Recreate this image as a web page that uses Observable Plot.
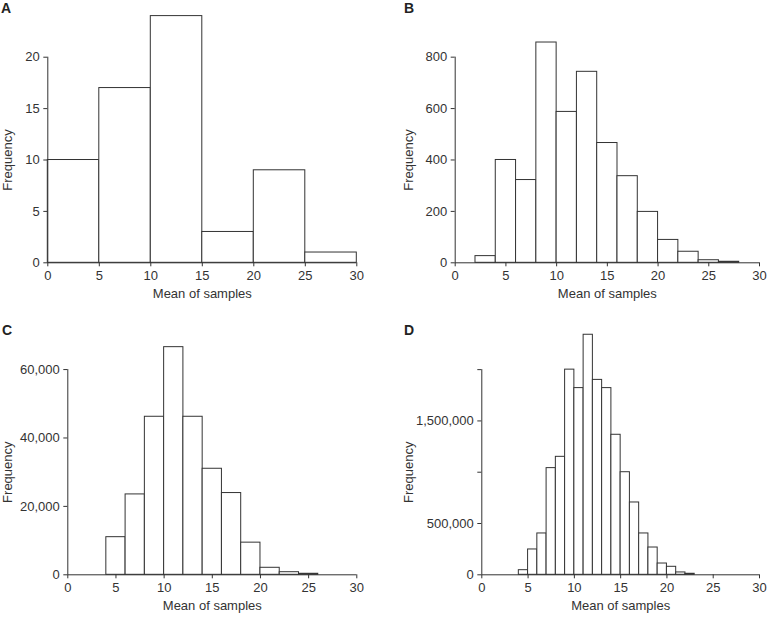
<!DOCTYPE html>
<html>
<head>
<meta charset="utf-8">
<script src="https://cdn.jsdelivr.net/npm/d3@7"></script>
<script src="https://cdn.jsdelivr.net/npm/@observablehq/plot@0.6"></script>
<style>
  html, body { margin: 0; padding: 0; background: #fff; }
  #root { position: relative; width: 767px; height: 617px; font-family: "Liberation Sans", Arial, sans-serif; }
  .panel { position: absolute; }
  .tag { position: absolute; font: bold 14px "Liberation Sans", Arial, sans-serif; color: #222; }
</style>
</head>
<body>
<div id="root"></div>
<script>
// ---- data ----
const panelTags = ["A", "B", "C", "D"];

// A: bin width 5
const aBinStarts = [0, 5, 10, 15, 20, 25];
const aCounts = [10, 17, 24, 3, 9, 1];
const aTicksY = [0, 5, 10, 15, 20];

// B: bin width 2
const bBinStarts = [2, 4, 6, 8, 10, 12, 14, 16, 18, 20, 22, 24, 26];
const bCounts = [26, 400, 322, 857, 587, 743, 466, 337, 198, 89, 43, 10, 4];
const bTicksY = [0, 200, 400, 600, 800];

// C: bin width 2
const cBinStarts = [4, 6, 8, 10, 12, 14, 16, 18, 20, 22, 24];
const cCounts = [11000, 23500, 46200, 66550, 46200, 31000, 23900, 9400, 2050, 760, 300];
const cTicksY = [0, 20000, 40000, 60000];

// D: bin width 1
const dBinStarts = [4, 5, 6, 7, 8, 9, 10, 11, 12, 13, 14, 15, 16, 17, 18, 19, 20, 21, 22];
const dCounts = [45000, 247000, 403000, 1040000, 1150000, 2000000, 1820000, 2340000, 1900000, 1820000,
                 1365000, 1000000, 705000, 403000, 266000, 110000, 78000, 23000, 10000];
const dTicksY = [0, 500000, 1000000, 1500000, 2000000];
const dLabeledY = [0, 500000, 1500000];

const xTicks = [0, 5, 10, 15, 20, 25, 30];
const xDomain = [0, 30];
const xLabel = "Mean of samples";
const yLabel = "Frequency";

// ---- drawing ----
const ink = "#333";
const fmt = d3.format(",");

function panel({left, top, width, height, mL, mR, mT, mB, starts, counts, binW, yMax, ticksY, tickFmt, yLabelDx, xLabelDy}) {
  const data = starts.map((s, i) => ({x1: s, x2: s + binW, y: counts[i]}));
  const axisTop = ticksY[ticksY.length - 1];
  const svg = Plot.plot({
    width, height,
    marginLeft: mL, marginRight: mR, marginTop: mT, marginBottom: mB,
    style: {fontFamily: '"Liberation Sans", Arial, sans-serif', fontSize: "13px", color: ink, background: "white"},
    x: {domain: xDomain},
    y: {domain: [0, yMax]},
    marks: [
      Plot.rectY(data, {x1: "x1", x2: "x2", y: "y", fill: "white", stroke: ink, strokeWidth: 1}),
      Plot.ruleY([0], {x1: xDomain[0], x2: xDomain[1], stroke: ink}),
      Plot.ruleX([xDomain[0]], {y1: 0, y2: axisTop, stroke: ink}),
      Plot.axisX({ticks: xTicks, tickSize: 4, tickPadding: 4, label: null, fontSize: 13, tickFormat: d => String(d), stroke: ink, fill: ink}),
      Plot.axisY({ticks: ticksY, tickSize: 4, tickPadding: 4, label: null, fontSize: 13, tickFormat: tickFmt, stroke: ink, fill: ink}),
      Plot.text([xLabel], {frameAnchor: "bottom", dy: xLabelDy, fill: ink, fontSize: 13}),
      Plot.text([yLabel], {x: xDomain[0], y: [axisTop / 2], dx: yLabelDx, rotate: -90, fill: ink, fontSize: 13})
    ]
  });
  const div = document.createElement("div");
  div.className = "panel";
  div.style.left = left + "px";
  div.style.top = top + "px";
  div.appendChild(svg);
  document.getElementById("root").appendChild(div);
}

panel({left: 0, top: 0, width: 383, height: 305, mL: 47.3, mR: 26.7, mT: 15.6, mB: 42.7,
  starts: aBinStarts, counts: aCounts, binW: 5, yMax: 24, ticksY: aTicksY, tickFmt: d => String(d), yLabelDx: -39.8, xLabelDy: 35});
panel({left: 383, top: 0, width: 384, height: 305, mL: 71.7, mR: 8, mT: 36.1, mB: 42.7,
  starts: bBinStarts, counts: bCounts, binW: 2, yMax: 880, ticksY: bTicksY, tickFmt: d => String(d), yLabelDx: -46.7, xLabelDy: 35});
panel({left: 0, top: 310, width: 383, height: 307, mL: 67.3, mR: 26.7, mT: 31.7, mB: 42.7,
  starts: cBinStarts, counts: cCounts, binW: 2, yMax: 68000, ticksY: cTicksY, tickFmt: d => fmt(d), yLabelDx: -59.8, xLabelDy: 35});
panel({left: 383, top: 310, width: 384, height: 307, mL: 98.3, mR: 8, mT: 18.1, mB: 42.7,
  starts: dBinStarts, counts: dCounts, binW: 1, yMax: 2400000, ticksY: dTicksY,
  tickFmt: d => dLabeledY.includes(d) ? fmt(d) : "", yLabelDx: -73.3, xLabelDy: 35});

const tagPos = [[1, 0], [404, 0], [2, 322], [404, 322]];
panelTags.forEach((t, i) => {
  const el = document.createElement("div");
  el.className = "tag";
  el.textContent = t;
  el.style.left = tagPos[i][0] + "px";
  el.style.top = tagPos[i][1] + "px";
  document.getElementById("root").appendChild(el);
});
</script>
</body>
</html>
